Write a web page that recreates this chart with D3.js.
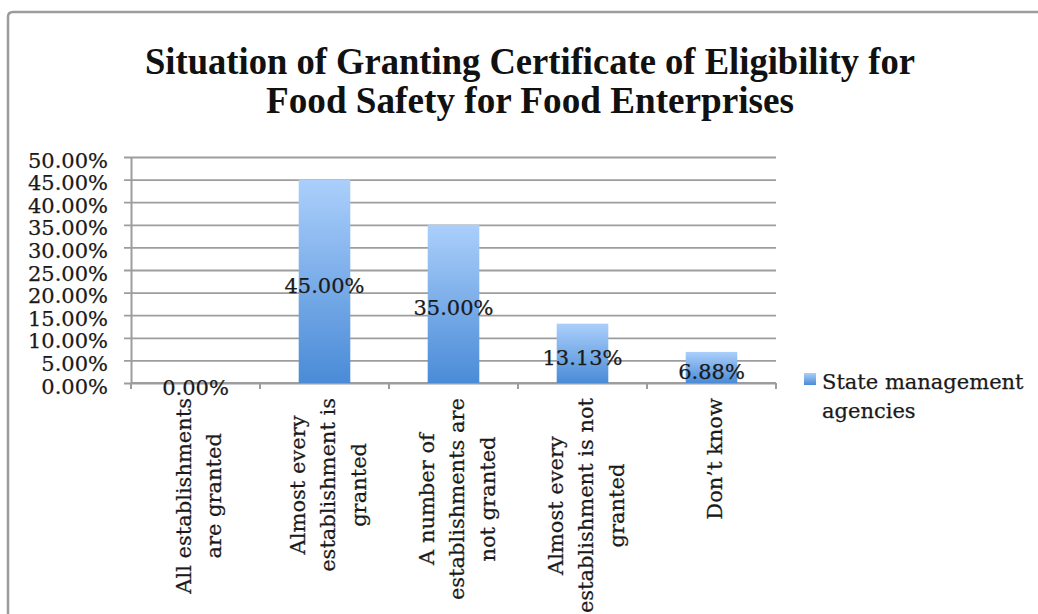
<!DOCTYPE html>
<html>
<head>
<meta charset="utf-8">
<script src="https://cdn.jsdelivr.net/npm/d3@7"></script>
<style>
  html, body { margin: 0; padding: 0; background: #fff; }
  svg { display: block; }
</style>
</head>
<body>
<svg id="chart" width="1038" height="614"></svg>
<script>
// Survey answers of state management agencies
const titleLines = [
  "Situation of Granting Certificate of Eligibility for",
  "Food Safety for Food Enterprises"
];
const categories = [
  "All establishments\nare granted",
  "Almost every\nestablishment is\ngranted",
  "A number of\nestablishments are\nnot granted",
  "Almost every\nestablishment is not\ngranted",
  "Don’t know"
];
const values = [0.0, 0.45, 0.35, 0.1313, 0.0688];
const seriesName = ["State management", "agencies"];
const yTicks = [0, 0.05, 0.10, 0.15, 0.20, 0.25, 0.30, 0.35, 0.40, 0.45, 0.50];

const svg = d3.select("#chart");
const serif = "'DejaVu Serif', serif";
const textColor = "#1a1a1a";
const pct = d3.format(".2%");

// applies the common body-text style
function bodyText(sel) {
  return sel.attr("font-family", serif).attr("font-size", 21)
    .attr("fill", textColor).attr("stroke", textColor).attr("stroke-width", 0.25);
}

// bar gradient
const defs = svg.append("defs");
const grad = defs.append("linearGradient")
  .attr("id", "barGrad").attr("x1", 0).attr("y1", 0).attr("x2", 0).attr("y2", 1);
grad.append("stop").attr("offset", "0%").attr("stop-color", "#abcffb");
grad.append("stop").attr("offset", "100%").attr("stop-color", "#4a8bd7");

// frame
svg.append("path")
  .attr("d", "M8,614 V17 Q8,12 13,12 H1038")
  .attr("fill", "none").attr("stroke", "#9c9c9c").attr("stroke-width", 2.5);

// title
const titleY = [74, 113];
const titleW = [770, 528];
titleLines.forEach((t, i) => {
  svg.append("text")
    .attr("x", 530).attr("y", titleY[i])
    .attr("text-anchor", "middle")
    .attr("font-family", "'Liberation Serif', serif")
    .attr("font-weight", "bold")
    .attr("font-size", 38)
    .attr("fill", "#111")
    .attr("textLength", titleW[i])
    .attr("lengthAdjust", "spacingAndGlyphs")
    .text(t);
});

// scales
const x = d3.scaleBand().domain(categories).range([131, 776]).padding(0);
const y = d3.scaleLinear().domain([0, 0.5]).range([383, 157]);
const gridColor = "#9d9d9d";

// y axis with gridlines
const yAxis = svg.append("g")
  .attr("transform", `translate(${x.range()[0]},0)`)
  .call(d3.axisLeft(y).tickValues(yTicks).tickFormat(pct)
    .tickSizeInner(-(x.range()[1] - x.range()[0])).tickSizeOuter(0).tickPadding(23));
yAxis.select(".domain").attr("stroke", gridColor).attr("stroke-width", 2);
yAxis.selectAll(".tick line")
  .attr("x1", -7).attr("stroke", gridColor).attr("stroke-width", 1.8);
yAxis.selectAll(".tick text")
  .attr("dy", null).attr("y", 10)
  .call(bodyText);

// x axis line and boundary ticks
const xAxis = svg.append("g");
xAxis.append("line")
  .attr("x1", x.range()[0]).attr("x2", x.range()[1])
  .attr("y1", y(0)).attr("y2", y(0))
  .attr("stroke", gridColor).attr("stroke-width", 2);
d3.range(categories.length + 1).forEach(i => {
  const bx = x.range()[0] + i * x.step();
  xAxis.append("line")
    .attr("x1", bx).attr("x2", bx).attr("y1", y(0)).attr("y2", y(0) + 6)
    .attr("stroke", gridColor).attr("stroke-width", 2);
});

// bars
const barW = x.bandwidth() * 0.4;
svg.append("g").selectAll("rect")
  .data(values)
  .join("rect")
  .attr("x", (d, i) => x(categories[i]) + (x.bandwidth() - barW) / 2)
  .attr("y", d => y(d))
  .attr("width", barW)
  .attr("height", d => y(0) - y(d))
  .attr("fill", "url(#barGrad)");

// value labels, centred in each bar
svg.append("g").selectAll("text")
  .data(values)
  .join("text")
  .attr("x", (d, i) => x(categories[i]) + x.bandwidth() / 2)
  .attr("y", d => (y(d) + y(0)) / 2 + 11.5)
  .attr("text-anchor", "middle")
  .call(bodyText)
  .text(d => pct(d));

// rotated category labels
const lineGap = 30.5;
categories.forEach(c => {
  const lines = c.split("\n");
  const g = svg.append("g")
    .attr("transform", `translate(${x(c) + x.bandwidth() / 2 + 10.5},398) rotate(-90)`);
  const texts = lines.map((l, i) => g.append("text")
    .attr("y", (i - (lines.length - 1) / 2) * lineGap)
    .attr("text-anchor", "middle")
    .call(bodyText)
    .text(l));
  const maxLen = d3.max(texts, t => t.node().getComputedTextLength());
  texts.forEach(t => t.attr("x", -maxLen / 2));
});

// legend
svg.append("rect")
  .attr("x", 804).attr("y", 373).attr("width", 12).attr("height", 12)
  .attr("fill", "url(#barGrad)");
seriesName.forEach((s, i) => {
  svg.append("text")
    .attr("x", 822).attr("y", 389 + i * 29)
    .call(bodyText)
    .text(s);
});
</script>
</body>
</html>
